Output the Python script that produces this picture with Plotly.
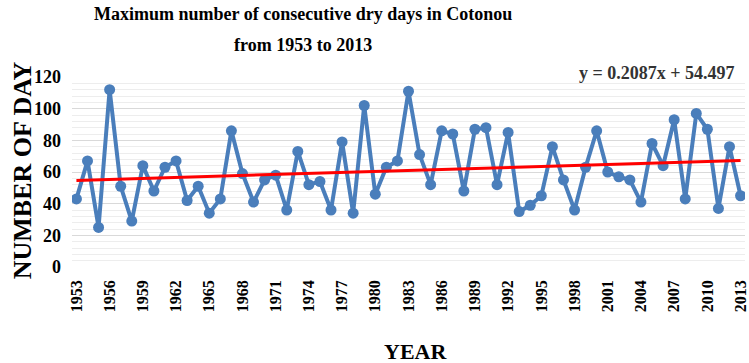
import plotly.graph_objects as go

years = list(range(1953, 2014))
dry_days = [43, 67, 25, 112, 51, 29, 64, 48, 63, 67,
            42, 51, 34, 43, 86, 59, 41, 55, 58, 36,
            73, 52, 54, 36, 79, 34, 102, 46, 63, 67,
            111, 71, 52, 86, 84, 48, 87, 88, 52, 85,
            35, 39, 45, 76, 55, 36, 63, 86, 60, 57,
            55, 41, 78, 64, 93, 43, 97, 87, 37, 76, 45]
trend_slope = 0.2087
trend_intercept = 54.497
y_ticks = [0, 20, 40, 60, 80, 100, 120]
x_ticks = list(range(1953, 2014, 3))

trend = [trend_slope * (i + 1) + trend_intercept for i in range(len(years))]

serif = "Liberation Serif"
bold = lambda s, c="black": dict(family=serif, size=s, color=c, weight="bold")

fig = go.Figure()
fig.add_trace(go.Scatter(x=years, y=dry_days, mode="lines+markers",
                         line=dict(color="#4A7EBB", width=4),
                         marker=dict(color="#4A7EBB", size=11),
                         showlegend=False))
fig.add_trace(go.Scatter(x=years, y=trend, mode="lines",
                         line=dict(color="#FF0000", width=3),
                         showlegend=False))

fig.update_layout(
    width=749, height=363,
    margin=dict(l=72, r=0, t=77, b=96),
    paper_bgcolor="white", plot_bgcolor="white",
    xaxis=dict(range=[1952.6, 2013.4], tickvals=x_ticks, tickangle=-90,
               tickfont=bold(16), ticklabeloverflow="allow",
               showgrid=False, zeroline=False, showline=False, ticks="",
               ticklabelstandoff=9),
    yaxis=dict(range=[0, 120], tickvals=y_ticks, tickfont=bold(18),
               showgrid=True, gridcolor="#D9D9D9", gridwidth=1,
               minor=dict(dtick=4, showgrid=True, gridcolor="#EDEDED", gridwidth=1),
               zeroline=False, showline=False, ticks="", ticklabelstandoff=10),
    annotations=[
        dict(text="Maximum number of consecutive dry days in Cotonou", x=0.343, xref="paper",
             xanchor="center", y=1.332, yref="paper", yanchor="middle", showarrow=False,
             font=bold(18)),
        dict(text="from 1953 to 2013", x=0.343, xref="paper",
             xanchor="center", y=1.168, yref="paper", yanchor="middle", showarrow=False,
             font=bold(18)),
        dict(text="NUMBER OF DAY", x=-0.074, xref="paper", xanchor="center",
             y=0.51, yref="paper", yanchor="middle", textangle=-90, showarrow=False,
             font=bold(26)),
        dict(text="YEAR", x=0.51, xref="paper", xanchor="center",
             y=-0.447, yref="paper", yanchor="middle", showarrow=False,
             font=bold(22)),
        dict(text="y = 0.2087x + 54.497", x=1, xref="paper", xanchor="right",
             y=1.0, yref="paper", yanchor="bottom", showarrow=False,
             xshift=-8, yshift=-8, font=bold(18, "#333333")),
    ],
)
fig.write_html("out.html")
